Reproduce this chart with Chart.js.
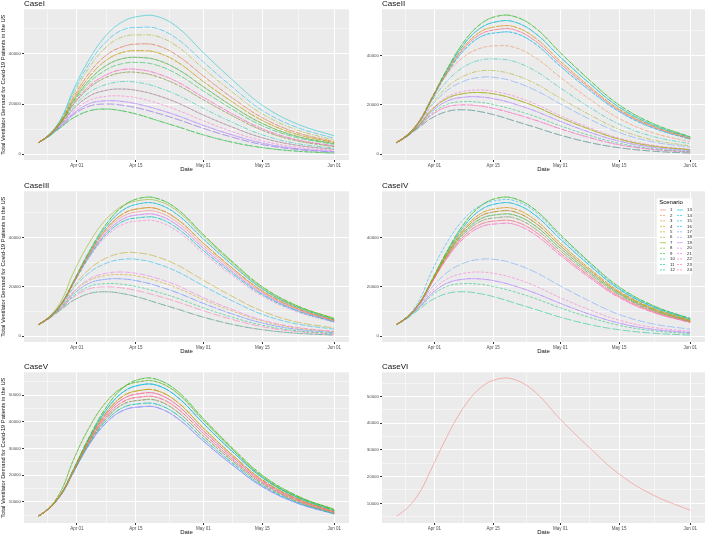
<!DOCTYPE html>
<html>
<head>
<meta charset="utf-8">
<script src="https://cdn.jsdelivr.net/npm/chart.js@4.4.0/dist/chart.umd.min.js"></script>
<style>
  html, body { margin: 0; padding: 0; background: #fff; overflow: hidden; }
  #wrap { position: relative; width: 709px; height: 536px; }
  canvas { position: absolute; }
</style>
</head>
<body>
<div id="wrap">
  <canvas id="p1" width="353" height="176" style="left:0px;top:0px"></canvas>
  <canvas id="p2" width="354" height="176" style="left:355px;top:0px"></canvas>
  <canvas id="p3" width="353" height="176" style="left:0px;top:182px"></canvas>
  <canvas id="p4" width="354" height="176" style="left:355px;top:182px"></canvas>
  <canvas id="p5" width="353" height="176" style="left:0px;top:363px"></canvas>
  <canvas id="p6" width="354" height="176" style="left:355px;top:363px"></canvas>
</div>
<script>
// days counted from Apr 01
var days = [-9, -7, -5, -3, -1, 3, 7, 11, 15, 19, 24, 30, 37, 44, 52, 61];
var dateTicks = [0, 14, 30, 44, 61];
var dateLabels = ['Apr 01', 'Apr 15', 'May 01', 'May 15', 'Jun 01'];
var dateMinor = [-7, 7, 22, 37, 52.5];
var scenarios = ['1','2','3','4','5','6','7','8','9','10','11','12','13','14','15','16','17','18','19','20','21','22','23','24'];

// distinct demand curves seen in the panels (values at `days`)
var curves = [
  [4800,7100,10300,15000,21500,34500,45500,52800,56000,55900,51300,41200,30000,20000,12500,7000],
  [4700,7200,10800,16600,25000,38000,47500,53000,55100,55000,50500,40500,29500,19500,12200,7300],
  [4800,7100,10300,14900,21300,34000,44500,51200,53800,53700,49100,39400,28700,19100,11900,6700],
  [4800,7050,10200,14800,21100,33500,43500,49700,51800,51700,47200,37700,27400,18300,11400,6400],
  [4800,7050,10200,14700,21000,33200,42800,48700,50600,50500,46000,36700,26700,17800,11100,6200],
  [4800,7050,10200,14700,20900,32800,42000,47600,49300,49200,44800,35700,25900,17300,10700,6000],
  [4800,7000,10100,14600,20800,32400,41300,46600,48100,48000,43600,34700,25200,16800,10400,5800],
  [4800,7000,10100,14500,20600,32000,40500,45400,46800,46600,42400,33700,24400,16200,10000,5600],
  [4800,7000,10100,14400,20500,31600,39700,44300,45600,45400,41200,32800,23700,15700,9700,5500],
  [4700,7100,10500,15300,22000,32500,39500,43000,44000,43400,39200,31200,22300,14500,8700,5000],
  [4700,7050,10400,15000,21300,31000,37500,40700,41300,40600,36600,29000,20700,13400,8000,4600],
  [4700,7000,10300,14700,20700,29600,35400,38200,38600,37600,33800,26900,19000,12200,7200,4200],
  [4700,7000,10200,14500,20200,28500,33700,36200,36600,35500,31800,25200,17800,11300,6700,3900],
  [4700,6950,10100,14200,19600,27200,31700,33800,33700,32200,28700,22700,16000,10100,5800,3300],
  [4700,6950,10100,14100,19300,26500,30700,32600,32500,31000,27500,21700,15200,9500,5400,3000],
  [4700,6900,10000,13900,19000,25800,29600,31200,31000,29400,26000,20400,14200,8800,5000,2800],
  [4700,6900,9900,13600,18400,24700,27800,29000,28500,26800,23500,18300,12600,7700,4300,2400],
  [4700,6850,9800,13300,17700,23200,25500,26000,25200,23500,20400,15600,10700,6500,3600,1900],
  [4700,6800,9700,13100,17400,22600,24600,25000,24200,22400,19400,14800,10100,6100,3300,1800],
  [4700,6800,9600,12800,16800,21500,23100,23200,22200,20400,17500,13300,8900,5300,2800,1400],
  [4700,6750,9500,12400,16000,20200,21300,21000,19800,18000,15300,11500,7600,4400,2200,1000],
  [4700,6700,9400,12200,15500,19200,20000,19500,18200,16400,13800,10300,6700,3800,1900,800],
  [4700,6600,9100,11700,14300,17300,18000,17200,15600,13500,10900,7700,4700,2600,1200,400],
  [4700,7150,10700,16100,24000,36300,45000,49700,50600,50200,45800,36800,26600,17400,10800,6300],
  [4700,7100,10600,15700,23000,34700,42800,46900,47600,47100,42800,34200,24600,16000,9800,5600]
];

// which curve each scenario 1..24 follows, per case
var caseI   = [17,14,9,10,10,24,11,22,12,14,22,16,1,11,23,17,21,20,20,9,13,19,21,13];
var caseII  = [4,9,3,3,18,13,18,0,0,20,22,11,2,5,2,5,15,19,19,4,21,17,22,21];
var caseIII = [4,3,3,18,13,3,1,0,0,20,22,6,2,6,15,2,19,19,5,5,17,7,21,22];
var caseIV  = [7,6,3,3,4,4,5,0,0,20,22,6,2,5,2,1,15,19,19,4,8,17,7,8];
var caseV   = [4,5,3,6,3,3,1,0,0,1,7,6,2,7,2,2,8,8,8,4,5,6,4,5];
var caseVI  = [5200,7500,10800,15500,22000,35000,46000,53300,56500,56400,51700,41500,30800,21000,13200,7400];

var yMajorA = [0, 20000, 40000], yMinorA = [10000, 30000, 50000];
var yMajorB = [10000, 20000, 30000, 40000, 50000], yMinorB = [5000, 15000, 25000, 35000, 45000, 55000];

var FONT = '"Liberation Sans", Arial, sans-serif';
var dashes = [[], [4, 1.5], [6, 1.5], [3, 1.5], [8, 2], [5, 1.5, 1.5, 1.5]];

// ggplot default hue palette
function hueColor(h, a) {
  var L = 65, C = 100, hr = h * Math.PI / 180;
  var u = C * Math.cos(hr), v = C * Math.sin(hr);
  var Y = Math.pow((L + 16) / 116, 3);
  var Xn = 0.95047, Yn = 1, Zn = 1.08883, d = Xn + 15 * Yn + 3 * Zn;
  var up = u / (13 * L) + 4 * Xn / d, vp = v / (13 * L) + 9 * Yn / d;
  var X = Y * 9 * up / (4 * vp), Z = Y * (12 - 3 * up - 20 * vp) / (4 * vp);
  var lin = [
    3.240479 * X - 1.537150 * Y - 0.498535 * Z,
    -0.969256 * X + 1.875992 * Y + 0.041556 * Z,
    0.055648 * X - 0.204043 * Y + 1.057311 * Z
  ];
  var c = lin.map(function (x) {
    x = x <= 0.0031308 ? 12.92 * x : 1.055 * Math.pow(x, 1 / 2.4) - 0.055;
    return Math.round(Math.max(0, Math.min(1, x)) * 255);
  });
  return 'rgba(' + c[0] + ',' + c[1] + ',' + c[2] + ',' + a + ')';
}

var panelBg = {
  id: 'panelBg',
  beforeDraw: function (chart) {
    var a = chart.chartArea, ctx = chart.ctx;
    ctx.save();
    ctx.fillStyle = '#EBEBEB';
    ctx.fillRect(a.left, a.top, a.right - a.left, a.bottom - a.top);
    ctx.restore();
  }
};

var scenLegend = {
  id: 'scenLegend',
  afterDatasetsDraw: function (chart) {
    var a = chart.chartArea, ctx = chart.ctx;
    var x0 = a.right - 48.3, y0 = a.top + 7;
    ctx.save();
    ctx.fillStyle = '#fff';
    ctx.fillRect(x0, y0, 35.6, 76);
    ctx.fillStyle = '#000';
    ctx.font = '6px ' + FONT;
    ctx.textBaseline = 'middle';
    ctx.textAlign = 'left';
    ctx.fillText('Scenario', x0 + 2.5, y0 + 4);
    ctx.font = '4.3px ' + FONT;
    chart.data.datasets.forEach(function (ds, i) {
      var col = i < 12 ? 0 : 1, row = i % 12;
      var y = y0 + 11.7 + row * 5.45;
      var kx = x0 + 3.3 + col * 17;
      ctx.strokeStyle = ds.borderColor;
      ctx.lineWidth = 1;
      ctx.setLineDash(ds.borderDash.length ? [2, 1] : []);
      ctx.beginPath();
      ctx.moveTo(kx, y);
      ctx.lineTo(kx + 6, y);
      ctx.stroke();
      ctx.setLineDash([]);
      ctx.fillStyle = '#222';
      ctx.fillText(ds.label, kx + 10, y);
    });
    ctx.restore();
  }
};

function makePanel(id, title, series, leftCol, majors, minors, withLegend) {
  var datasets = series.map(function (vals, i) {
    return {
      label: scenarios[i],
      data: days.map(function (d, k) { return { x: d, y: vals[k] }; }),
      borderColor: hueColor(15 * (i + 1), 0.6),
      borderWidth: 0.85,
      borderDash: dashes[i % dashes.length],
      pointRadius: 0,
      fill: false,
      tension: 0.4
    };
  });
  var all = [].concat.apply([], series);
  var lo = Math.min.apply(null, all), hi = Math.max.apply(null, all);
  var pad = (hi - lo) * 0.05;
  var xPad = (days[days.length - 1] - days[0]) * 0.05;
  var yTicks = majors.concat(minors);
  var xTicks = dateTicks.concat(dateMinor);

  new Chart(document.getElementById(id), {
    type: 'line',
    data: { datasets: datasets },
    options: {
      responsive: false,
      animation: false,
      events: [],
      layout: { padding: { left: 0, right: 4, top: 0, bottom: 0 } },
      plugins: {
        legend: { display: false },
        tooltip: { enabled: false },
        title: {
          display: true, text: title, align: 'start', fullSize: false,
          color: '#111', font: { family: FONT, size: 8, weight: 'normal', lineHeight: 1 },
          padding: { top: 0, bottom: 1.3 }
        }
      },
      scales: {
        x: {
          type: 'linear',
          min: days[0] - xPad,
          max: days[days.length - 1] + xPad,
          afterBuildTicks: function (s) { s.ticks = xTicks.map(function (v) { return { value: v }; }); },
          afterFit: function (s) { s.height = 16; },
          ticks: {
            autoSkip: false, maxRotation: 0, padding: 1.5,
            color: '#4D4D4D', font: { family: FONT, size: 4.5 },
            callback: function (v) {
              var k = dateTicks.indexOf(v);
              return k >= 0 ? dateLabels[k] : '';
            }
          },
          grid: {
            color: '#fff',
            lineWidth: function (c) { return c.tick && dateTicks.indexOf(c.tick.value) >= 0 ? 1 : 0.5; },
            tickColor: function (c) { return c.tick && dateTicks.indexOf(c.tick.value) >= 0 ? '#333' : 'rgba(0,0,0,0)'; },
            tickLength: 2
          },
          border: { display: false },
          title: {
            display: true, text: 'Date', color: '#111',
            font: { family: FONT, size: 6 }, padding: { top: 0, bottom: 2.9 }
          }
        },
        y: {
          type: 'linear',
          min: lo - pad,
          max: hi + pad,
          afterBuildTicks: function (s) {
            s.ticks = yTicks.filter(function (v) { return v >= s.min && v <= s.max; })
              .sort(function (a, b) { return a - b; })
              .map(function (v) { return { value: v }; });
          },
          afterFit: function (s) { s.width = leftCol ? 24 : 27; },
          ticks: {
            autoSkip: false, padding: 1,
            color: '#4D4D4D', font: { family: FONT, size: 4.4 },
            callback: function (v) { return majors.indexOf(v) >= 0 ? String(v) : ''; }
          },
          grid: {
            color: '#fff',
            lineWidth: function (c) { return c.tick && majors.indexOf(c.tick.value) >= 0 ? 1 : 0.5; },
            tickColor: function (c) { return c.tick && majors.indexOf(c.tick.value) >= 0 ? '#333' : 'rgba(0,0,0,0)'; },
            tickLength: 2
          },
          border: { display: false },
          title: {
            display: leftCol,
            text: 'Total Ventilator Demand for Covid-19 Patients in the US',
            color: '#111', font: { family: FONT, size: 5.7 }, padding: { top: 0, bottom: 0 }
          }
        }
      }
    },
    plugins: withLegend ? [panelBg, scenLegend] : [panelBg]
  });
}

function pick(map) { return map.map(function (k) { return curves[k]; }); }

makePanel('p1', 'CaseI', pick(caseI), true, yMajorA, yMinorA, false);
makePanel('p2', 'CaseII', pick(caseII), false, yMajorA, yMinorA, false);
makePanel('p3', 'CaseIII', pick(caseIII), true, yMajorA, yMinorA, false);
makePanel('p4', 'CaseIV', pick(caseIV), false, yMajorA, yMinorA, true);
makePanel('p5', 'CaseV', pick(caseV), true, yMajorB, yMinorB, false);
makePanel('p6', 'CaseVI', [caseVI], false, yMajorB, yMinorB, false);
</script>
</body>
</html>
